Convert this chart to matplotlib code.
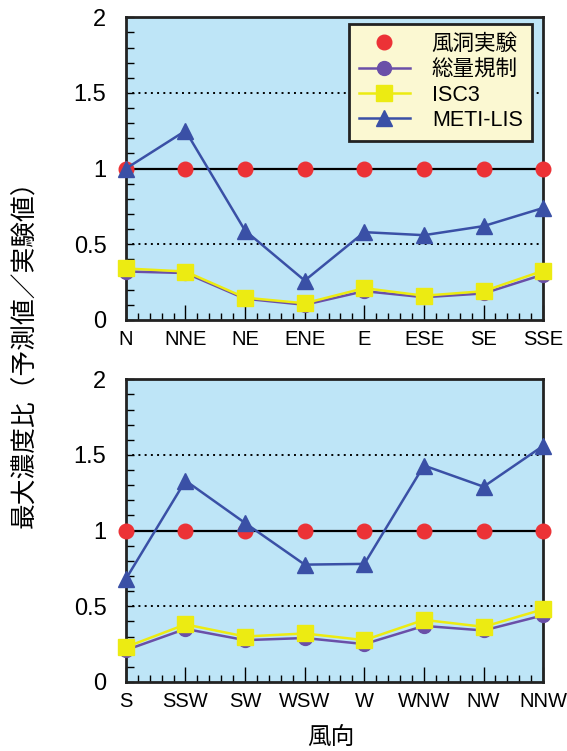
import matplotlib
matplotlib.use("Agg")
import matplotlib.pyplot as plt
import matplotlib.ticker as mticker

plt.rcParams["font.family"] = ["Liberation Sans", "Noto Sans CJK JP", "DejaVu Sans"]

dirs_top = ["N", "NNE", "NE", "ENE", "E", "ESE", "SE", "SSE"]
dirs_bottom = ["S", "SSW", "SW", "WSW", "W", "WNW", "NW", "NNW"]

wind_tunnel_top = [1, 1, 1, 1, 1, 1, 1, 1]
total_reg_top = [0.32, 0.31, 0.14, 0.10, 0.19, 0.15, 0.175, 0.30]
isc3_top = [0.34, 0.32, 0.147, 0.11, 0.21, 0.16, 0.19, 0.325]
metilis_top = [1.0, 1.25, 0.59, 0.26, 0.58, 0.56, 0.62, 0.74]

wind_tunnel_bottom = [1, 1, 1, 1, 1, 1, 1, 1]
total_reg_bottom = [0.21, 0.35, 0.276, 0.29, 0.25, 0.37, 0.34, 0.44]
isc3_bottom = [0.23, 0.38, 0.30, 0.32, 0.276, 0.41, 0.364, 0.48]
metilis_bottom = [0.68, 1.33, 1.05, 0.775, 0.78, 1.43, 1.29, 1.56]

labels = ["風洞実験", "総量規制", "ISC3", "METI-LIS"]

BG = "#bee5f7"
RED = "#ec3236"
PURPLE = "#6a4fa8"
YELLOW = "#eceb12"
BLUE = "#3a50a6"


def draw(ax, dirs, wt, tr, isc, meti, legend=False):
    ax.set_facecolor(BG)
    x = range(len(dirs))
    ax.axhline(1.0, color="black", lw=1.6, zorder=2)
    for yv in (0.5, 1.5):
        ax.axhline(yv, color="black", lw=1.4, ls=(0, (1, 2.2)), zorder=2)
    l1, = ax.plot(x, wt, ls="none", marker="o", ms=10.5, color=RED,
                  zorder=4, clip_on=False)
    l2, = ax.plot(x, tr, color=PURPLE, lw=1.8, marker="o", ms=10,
                  zorder=5, clip_on=False)
    l3, = ax.plot(x, isc, color=YELLOW, lw=1.8, marker="s", ms=11,
                  zorder=6, clip_on=False)
    l4, = ax.plot(x, meti, color=BLUE, lw=1.8, marker="^", ms=11,
                  zorder=7, clip_on=False)
    ax.set_xlim(0, len(dirs) - 1)
    ax.set_ylim(0, 2)
    ax.set_xticks(list(x))
    ax.set_xticklabels(dirs, fontsize=14.5)
    ax.xaxis.set_minor_locator(mticker.MultipleLocator(0.2))
    ax.set_yticks([0, 0.5, 1, 1.5, 2])
    ax.set_yticklabels(["0", "0.5", "1", "1.5", "2"], fontsize=17)
    ax.yaxis.set_minor_locator(mticker.MultipleLocator(0.1))
    ax.tick_params(axis="x", which="major", direction="in", length=11,
                   width=1.0, pad=7, top=False)
    ax.tick_params(axis="x", which="minor", direction="in", length=5,
                   width=1.0, top=False)
    ax.tick_params(axis="y", which="both", direction="in", length=6,
                   width=1.0, pad=14, right=False)
    for s in ax.spines.values():
        s.set_linewidth(2.0)
        s.set_color("#222222")
    if legend:
        leg = ax.legend([l1, l2, l3, l4], labels, loc="upper right",
                        bbox_to_anchor=(0.974, 0.977), fontsize=15.5,
                        frameon=True, fancybox=False, handlelength=2.4,
                        labelspacing=0.2, borderpad=0.45, handletextpad=1.0,
                        borderaxespad=0)
        fr = leg.get_frame()
        fr.set_facecolor("#fbf8d2")
        fr.set_edgecolor("#222222")
        fr.set_linewidth(2.0)
        fr.set_alpha(1)
        leg.set_zorder(10)


fig = plt.figure(figsize=(5.67, 7.51), dpi=100)
ax1 = fig.add_axes([0.222, 0.574, 0.736, 0.403])
ax2 = fig.add_axes([0.222, 0.092, 0.736, 0.403])

draw(ax1, dirs_top, wind_tunnel_top, total_reg_top, isc3_top, metilis_top,
     legend=True)
draw(ax2, dirs_bottom, wind_tunnel_bottom, total_reg_bottom, isc3_bottom,
     metilis_bottom)

fig.text(0.044, 0.537, "最大濃度比（予測値／実験値）", rotation=90,
         ha="center", va="center", fontsize=18.5,
         family=["Noto Sans CJK JP", "DejaVu Sans"])
fig.text(0.584, 0.017, "風向", ha="center", va="center", fontsize=17,
         family=["Noto Sans CJK JP", "DejaVu Sans"])

fig.savefig("out.png", dpi=100)
